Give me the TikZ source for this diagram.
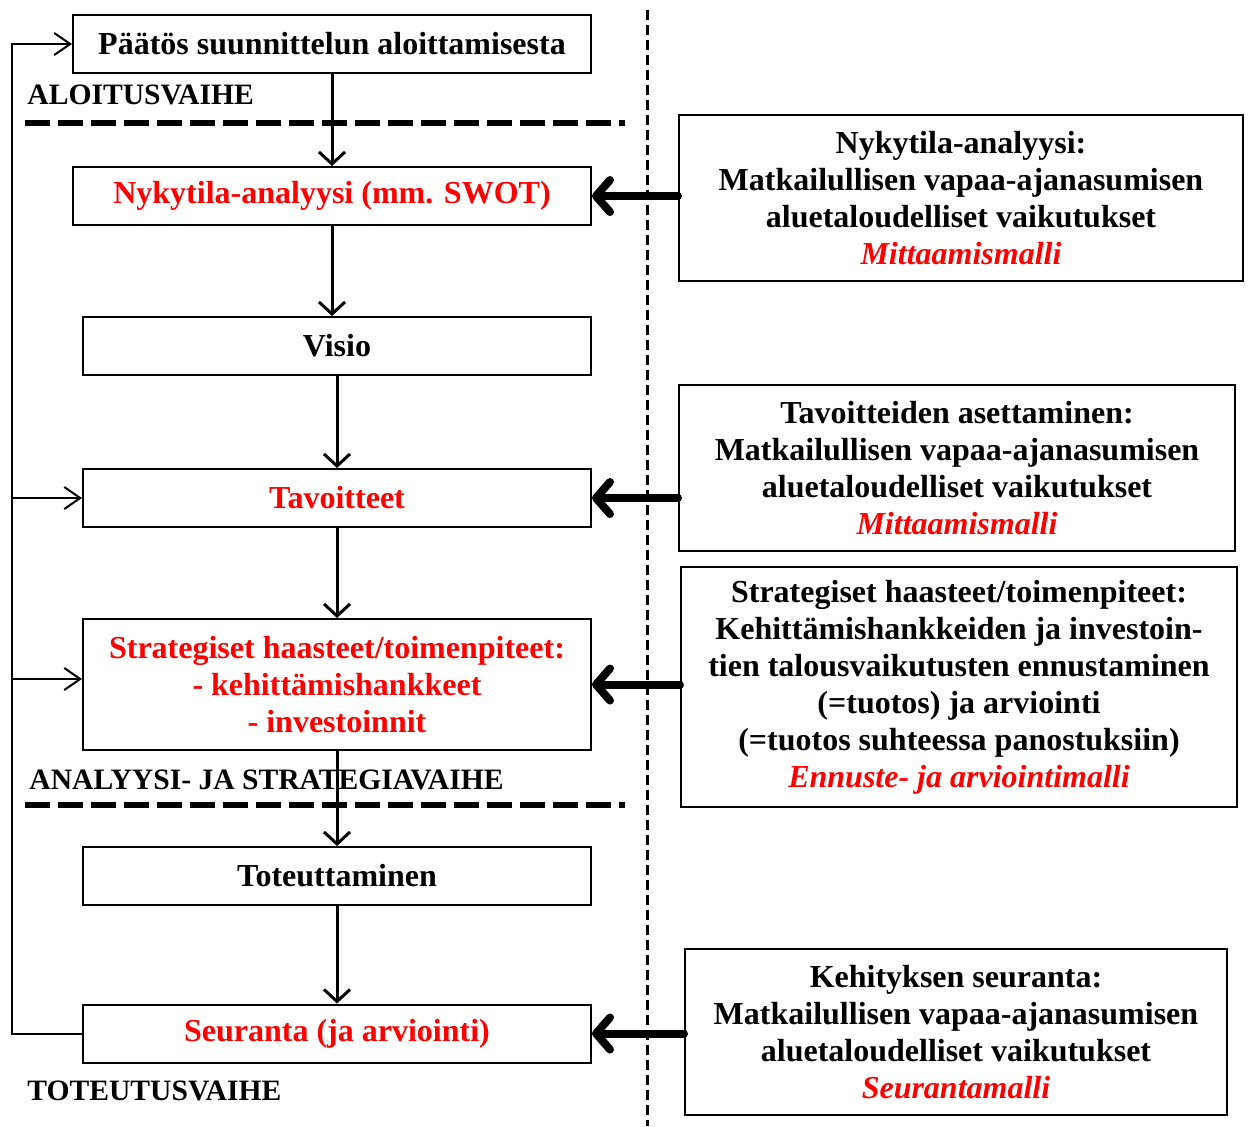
\documentclass[tikz,border=0pt]{standalone}
\usepackage{fontspec}
\setmainfont{Liberation Serif}
\usetikzlibrary{arrows.meta,positioning}

\tikzset{
  stepbox/.style={draw, line width=1pt, inner sep=0pt, align=center,
    minimum height=29pt, minimum width=254pt,
    font=\fontsize{16}{18.5}\selectfont\bfseries},
  infobox/.style={stepbox, minimum height=83pt},
  phase/.style={anchor=west, inner sep=0pt, font=\fontsize{14.8}{16}\selectfont\bfseries},
  flow/.style={line width=1.5pt, -{Straight Barb[length=6pt,width=13pt]}},
  feed/.style={line width=1pt, -{Straight Barb[length=8pt,width=11pt]}},
  input/.style={line width=4pt, line cap=round, -{Straight Barb[length=7pt,width=16pt,round]}},
  phaseline/.style={line width=3pt, dash pattern=on 12.5pt off 4pt},
  divider/.style={line width=1.5pt, dash pattern=on 5pt off 2.5pt}
}

\begin{document}
\begin{tikzpicture}[x=0.5pt,y=-0.5pt]
  \useasboundingbox (0,0) rectangle (1248,1126);

  % vaiheet
  \draw[divider] (647,10) -- (647,1126);
  \draw[phaseline] (25,123) -- (625,123);
  \draw[phaseline] (25,805) -- (625,805);
  \node[phase] (aloitus) at (27,95) {ALOITUSVAIHE};
  \node[phase] (analyysi) at (29,780) {ANALYYSI- JA STRATEGIAVAIHE};
  \node[phase] (toteutus) at (27,1091) {TOTEUTUSVAIHE};

  % suunnitteluprosessi
  \node[stepbox, minimum width=259pt] (paatos) at (332,44) {Päätös suunnittelun aloittamisesta};
  \node[stepbox, minimum width=259pt, text=red] (nykytila) at (332,196) {Nykytila-analyysi (mm. SWOT)};
  \node[stepbox] (visio) at (337,346) {Visio};
  \node[stepbox, text=red] (tavoitteet) at (337,498) {Tavoitteet};
  \node[stepbox, minimum height=65.5pt, text=red] (strategia) at (337,684.5)
    {Strategiset haasteet/toimenpiteet:\\- kehittämishankkeet\\- investoinnit};
  \node[stepbox] (toteuttaminen) at (337,876) {Toteuttaminen};
  \node[stepbox, text=red] (seuranta) at (337,1033.5) {Seuranta (ja arviointi)};

  % mallit
  \node[infobox, minimum width=282pt] (mittaus1) at (961,198)
    {Nykytila-analyysi:\\Matkailullisen vapaa-ajanasumisen\\aluetaloudelliset vaikutukset\\
     \textcolor{red}{\itshape Mittaamismalli}};
  \node[infobox, minimum width=278pt] (mittaus2) at (957,468)
    {Tavoitteiden asettaminen:\\Matkailullisen vapaa-ajanasumisen\\aluetaloudelliset vaikutukset\\
     \textcolor{red}{\itshape Mittaamismalli}};
  \node[infobox, minimum width=278pt, minimum height=120pt] (ennuste) at (959,687)
    {Strategiset haasteet/toimenpiteet:\\Kehittämishankkeiden ja investoin-\\tien talousvaikutusten ennustaminen\\
     (=tuotos) ja arviointi\\(=tuotos suhteessa panostuksiin)\\
     \textcolor{red}{\itshape Ennuste- ja arviointimalli}};
  \node[infobox, minimum width=271pt] (seurmalli) at (956,1032)
    {Kehityksen seuranta:\\Matkailullisen vapaa-ajanasumisen\\aluetaloudelliset vaikutukset\\
     \textcolor{red}{\itshape Seurantamalli}};

  \draw[flow] (paatos) -- (nykytila);
  \draw[flow] (nykytila.south) -- (nykytila.south |- visio.north);
  \draw[flow] (visio) -- (tavoitteet);
  \draw[flow] (tavoitteet) -- (strategia);
  \draw[flow] (strategia) -- (toteuttaminen);
  \draw[flow] (toteuttaminen) -- (seuranta);

  \draw[input] (mittaus1.west |- nykytila.east) -- (nykytila.east);
  \draw[input] (mittaus2.west |- tavoitteet.east) -- (tavoitteet.east);
  \draw[input] (ennuste.west |- strategia.east) -- (strategia.east);
  \draw[input] (seurmalli.west |- seuranta.east) -- (seuranta.east);

  % palaute
  \coordinate (ala) at (12,1033.5);
  \coordinate (yla) at (12,44);
  \coordinate (haara1) at (12,498);
  \coordinate (haara2) at (12,679);
  \draw[feed] (seuranta.west) -- (ala) -- (yla) -- (paatos.west);
  \draw[feed] (haara1) -- (tavoitteet.west);
  \draw[feed] (haara2) -- (strategia.west |- haara2);
\end{tikzpicture}
\end{document}
